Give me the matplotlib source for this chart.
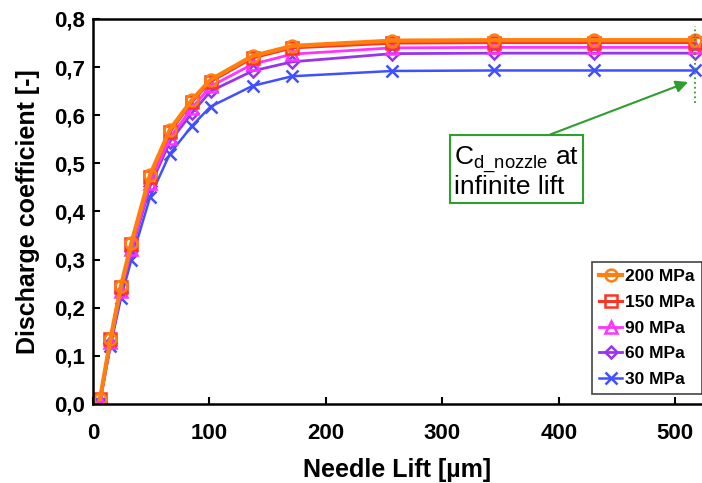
import matplotlib
matplotlib.use("Agg")
import matplotlib.pyplot as plt
from matplotlib.ticker import FuncFormatter, MultipleLocator

plt.rcParams['font.family'] = ['Liberation Sans', 'DejaVu Sans']
plt.rcParams['mathtext.fontset'] = 'custom'
plt.rcParams['mathtext.rm'] = 'Liberation Sans'

# needle lift [um]
lift = [6, 15, 24, 33, 49, 66, 85, 101, 137, 171, 257, 344, 430, 517]

# discharge coefficient per rail pressure
cd_200 = [0.010, 0.135, 0.245, 0.335, 0.476, 0.570, 0.632, 0.674, 0.723, 0.744, 0.755, 0.756, 0.756, 0.756]
cd_150 = [0.010, 0.135, 0.243, 0.332, 0.472, 0.565, 0.628, 0.670, 0.719, 0.740, 0.750, 0.751, 0.751, 0.751]
cd_90 = [0.005, 0.128, 0.235, 0.322, 0.460, 0.553, 0.615, 0.660, 0.706, 0.727, 0.740, 0.741, 0.741, 0.741]
cd_60 = [0.005, 0.126, 0.232, 0.318, 0.452, 0.545, 0.605, 0.650, 0.692, 0.711, 0.728, 0.729, 0.729, 0.729]
cd_30 = [0.003, 0.120, 0.220, 0.300, 0.430, 0.520, 0.578, 0.618, 0.661, 0.681, 0.692, 0.693, 0.693, 0.693]

labels = ['200 MPa', '150 MPa', '90 MPa', '60 MPa', '30 MPa']
series = [cd_200, cd_150, cd_90, cd_60, cd_30]
colors = ['#FF7F0E', '#FF3322', '#FF33FF', '#9933EE', '#4050FF']
markers = ['o', 's', '^', 'D', 'x']
widths = [3.0, 2.2, 2.0, 2.0, 1.8]

fig = plt.figure(figsize=(7.02, 4.83), dpi=100)
ax = fig.add_axes([0.1325, 0.1636, 0.8675, 0.7971])

handles = {}
# draw low pressures first so 200 MPa sits on top
for lab, y, c, m, w in reversed(list(zip(labels, series, colors, markers, widths))):
    ms = 6.5 if m == 'D' else 8.5
    h, = ax.plot(lift, y, color=c, marker=m, ms=ms, mfc='none', mew=1.8, lw=w, label=lab)
    handles[lab] = h

ax.set_xlim(0, 523)
ax.set_ylim(0, 0.8)
ax.xaxis.set_major_locator(MultipleLocator(100))
ax.yaxis.set_major_locator(MultipleLocator(0.1))
ax.yaxis.set_major_formatter(FuncFormatter(lambda v, p: f"{v:.1f}".replace('.', ',')))
ax.tick_params(direction='in', length=5, width=1.5, labelsize=16)
for t in ax.get_xticklabels() + ax.get_yticklabels():
    t.set_fontweight('bold')
ax.tick_params(axis='y', pad=6)
ax.tick_params(axis='x', pad=14)

for s in ['left', 'bottom', 'top']:
    ax.spines[s].set_linewidth(1.8)
ax.spines['right'].set_visible(False)

ax.set_xlabel('Needle Lift [µm]', fontsize=18, fontweight='bold', labelpad=10)
ax.set_ylabel('Discharge coefficient [-]', fontsize=18, fontweight='bold', labelpad=10)

leg = ax.legend([handles[l] for l in labels], labels, loc='lower right',
                bbox_to_anchor=(1.0, 0.025), borderaxespad=0, fancybox=False,
                edgecolor='#444444', framealpha=1, handlelength=1.3,
                handletextpad=0.2, labelspacing=0.62, borderpad=0.4,
                prop={'weight': 'bold', 'size': 12.5})
leg.get_frame().set_linewidth(1.2)

green = '#2E9E2E'
ax.plot([517, 517], [0.626, 0.785], ls=':', color=green, lw=1.3)
ax.annotate('C$_{\\mathregular{d\\_nozzle}}$ at\ninfinite lift', xy=(511, 0.669), xytext=(364, 0.482),
            ha='center', va='center', multialignment='left', fontsize=19, linespacing=0.95,
            bbox=dict(boxstyle='square,pad=0.15', fc='white', ec=green, lw=1.5),
            arrowprops=dict(arrowstyle='-|>', color=green, lw=1.5, mutation_scale=18,
                            relpos=(0.55, 1.0), shrinkA=0, shrinkB=0))

fig.savefig('out.png', dpi=100)
